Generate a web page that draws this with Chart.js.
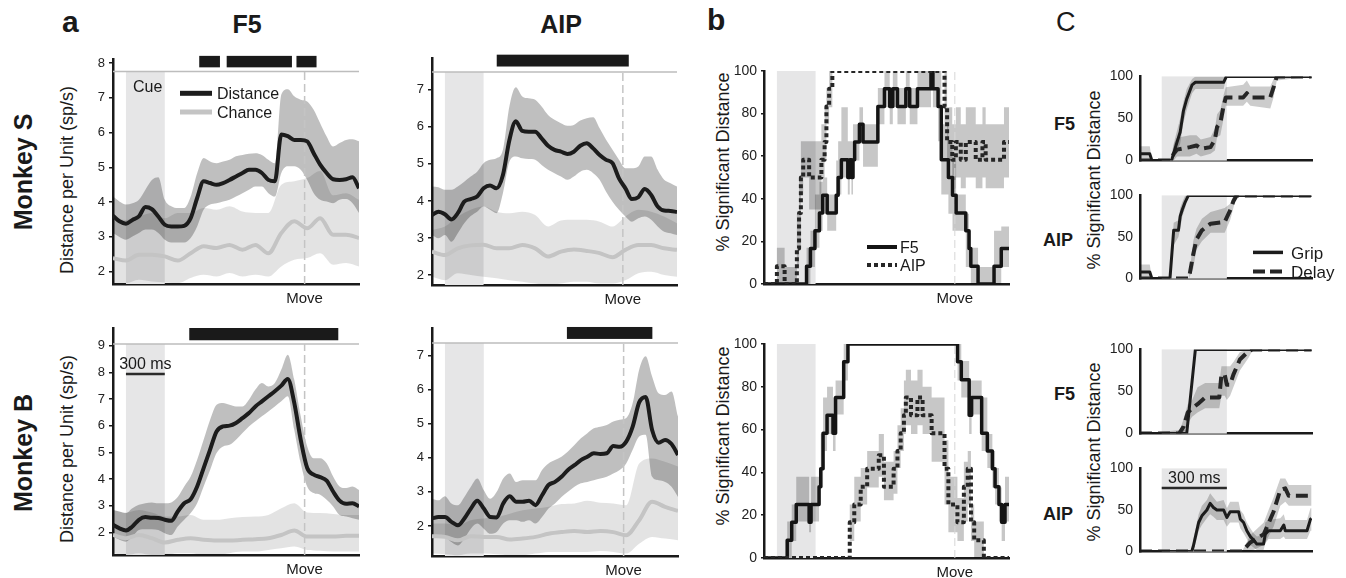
<!DOCTYPE html>
<html>
<head>
<meta charset="utf-8">
<script src="https://cdn.jsdelivr.net/npm/chart.js@4.4.1/dist/chart.umd.min.js"></script>
<style>
  body { margin: 0; background: #fff; }
  #fig { position: relative; width: 1346px; height: 578px; overflow: hidden;
         font-family: 'Liberation Sans', Arial, Helvetica, sans-serif; color: #1a1a1a; }
  #fig canvas { position: absolute; }
  .t { position: absolute; line-height: 1; white-space: nowrap; }
  .v { position: absolute; line-height: 1; white-space: nowrap;
       transform: translate(-50%, -50%) rotate(-90deg); }
</style>
</head>
<body>
<div id="fig">
  <div class="t" style="left:62px;top:7px;font-size:30px;font-weight:bold">a</div>
  <div class="t" style="left:197px;width:100px;text-align:center;top:12px;font-size:25px;font-weight:bold">F5</div>
  <div class="t" style="left:511px;width:100px;text-align:center;top:12px;font-size:25px;font-weight:bold">AIP</div>
  <div class="t" style="left:707px;top:5px;font-size:30px;font-weight:bold">b</div>
  <div class="t" style="left:1056px;top:9px;font-size:27px">C</div>

  <div class="v" style="left:23px;top:172px;font-size:25px;font-weight:bold">Monkey S</div>
  <div class="v" style="left:23px;top:453px;font-size:25px;font-weight:bold">Monkey B</div>
  <div class="v" style="left:67px;top:180px;font-size:18px">Distance per Unit (sp/s)</div>
  <div class="v" style="left:67px;top:449px;font-size:18px">Distance per Unit (sp/s)</div>
  <div class="v" style="left:723px;top:162px;font-size:18px">% Significant Distance</div>
  <div class="v" style="left:723px;top:436px;font-size:18px">% Significant Distance</div>
  <div class="v" style="left:1094px;top:180px;font-size:18px">% Significant Distance</div>
  <div class="v" style="left:1094px;top:452px;font-size:18px">% Significant Distance</div>

  <div class="t" style="right:271px;top:115px;font-size:18px;font-weight:bold">F5</div>
  <div class="t" style="right:273px;top:231px;font-size:18px;font-weight:bold">AIP</div>
  <div class="t" style="right:271px;top:385px;font-size:18px;font-weight:bold">F5</div>
  <div class="t" style="right:273px;top:505px;font-size:18px;font-weight:bold">AIP</div>
</div>

<script>
const FONT = "'Liberation Sans', Arial, Helvetica, sans-serif";
const INK = '#1a1a1a';

// time in ms from cue onset
const cueWin = [0, 300];
const moveT = 1380;

// panel a: distance per unit, 50 ms grid (distance) and 100 ms grid (chance)
const tA = [-100,-50,0,50,100,150,200,250,300,350,400,450,500,550,600,650,700,750,800,850,900,950,1000,1050,1100,1150,1200,1250,1300,1350,1400,1450,1500,1550,1600,1650,1700,1750,1800];
const tAc = [-100,0,100,200,300,400,500,600,700,800,900,1000,1100,1200,1300,1400,1500,1600,1700,1800];

// Monkey S, F5
const sF5Dist   = [3.61,3.45,3.38,3.49,3.59,3.86,3.80,3.59,3.35,3.30,3.30,3.32,3.54,4.12,4.60,4.55,4.50,4.55,4.64,4.74,4.84,4.93,4.93,4.84,4.64,4.60,5.95,5.90,5.79,5.79,5.75,5.41,5.08,4.84,4.66,4.64,4.66,4.72,4.40];
const sF5DistHi = [4.16,4.02,3.93,3.97,4.07,4.36,4.64,4.72,4.07,3.88,3.83,3.83,4.16,4.83,5.27,5.17,5.12,5.17,5.22,5.32,5.36,5.39,5.41,5.36,5.22,5.12,7.10,7.25,7.05,6.95,6.90,6.66,6.27,5.89,5.60,5.70,5.79,5.81,5.75];
const sF5DistLo = [3.11,3.00,2.92,3.01,3.11,3.21,3.21,3.11,2.92,2.84,2.84,2.84,2.97,3.30,3.78,3.93,3.97,4.02,4.07,4.16,4.26,4.36,4.45,4.45,4.26,4.16,4.84,5.03,5.03,4.93,4.64,4.26,4.07,4.02,3.97,4.07,4.09,3.97,3.69];
const sF5Chance   = [2.39,2.32,2.49,2.49,2.44,2.32,2.53,2.73,2.68,2.77,2.63,2.77,2.53,3.11,3.45,3.25,3.54,3.06,3.06,2.97];
const sF5ChanceHi = [3.54,3.49,3.59,3.69,3.54,3.69,3.69,3.83,3.78,3.88,3.73,3.69,3.69,4.50,4.60,4.70,4.90,4.20,4.26,4.07];
const sF5ChanceLo = [1.67,1.67,1.77,1.72,1.69,1.67,1.82,1.91,1.86,1.96,1.86,1.91,1.86,2.15,2.34,2.39,2.53,2.20,2.25,2.15];
const sF5Sig = [[566,726],[778,1282],[1317,1472]];

// Monkey S, AIP
const sAipDist   = [3.62,3.71,3.64,3.50,3.67,3.98,4.05,4.12,4.34,4.42,4.34,4.70,5.64,6.15,5.89,5.87,5.87,5.69,5.49,5.38,5.33,5.27,5.33,5.49,5.56,5.42,5.24,5.11,5.02,4.61,4.34,4.05,4.10,4.32,4.16,3.85,3.74,3.73,3.70];
const sAipDistHi = [4.39,4.37,4.30,4.30,4.39,4.52,4.66,4.79,5.02,5.11,5.15,5.38,6.55,7.07,6.82,6.77,6.73,6.55,6.32,6.19,6.10,6.03,6.05,6.17,6.23,6.26,5.96,5.65,5.38,5.11,4.88,4.88,4.93,5.20,5.20,4.84,4.57,4.48,4.39];
const sAipDistLo = [3.08,2.99,3.08,2.90,3.13,3.40,3.59,3.71,3.85,3.76,3.67,4.21,5.06,5.20,5.15,5.13,5.11,4.97,4.84,4.75,4.66,4.57,4.66,4.79,4.84,4.75,4.57,4.25,3.98,3.76,3.58,3.44,3.53,3.58,3.49,3.31,3.17,3.13,3.08];
const sAipChance   = [2.63,2.54,2.72,2.80,2.82,2.72,2.72,2.81,2.72,2.50,2.63,2.69,2.65,2.59,2.48,2.68,2.81,2.81,2.72,2.68];
const sAipChanceHi = [3.22,3.31,3.58,3.76,3.85,3.71,3.67,3.71,3.62,3.31,3.47,3.49,3.49,3.44,3.31,3.58,3.76,3.71,3.58,3.40];
const sAipChanceLo = [1.95,1.86,2.05,2.00,1.95,1.91,1.86,1.82,1.77,1.73,1.77,1.82,1.82,1.77,1.77,1.86,2.05,2.09,2.00,1.95];
const sAipSig = [[402,1426]];

// Monkey B, F5
const bF5Dist   = [2.28,2.15,2.07,2.22,2.47,2.57,2.55,2.54,2.47,2.43,2.78,3.09,3.24,3.72,4.41,5.10,5.78,5.97,6.00,6.10,6.28,6.47,6.72,6.91,7.10,7.29,7.50,7.75,6.85,5.47,4.41,4.16,4.07,3.94,3.53,3.19,3.07,3.09,2.97];
const bF5DistHi = [2.84,2.78,2.72,2.90,3.03,3.09,3.12,3.09,3.09,3.12,3.32,3.72,4.09,4.72,5.47,6.22,6.78,6.85,6.78,6.72,6.72,6.97,7.35,7.60,7.47,7.60,8.10,8.66,7.72,6.35,5.22,4.78,4.78,4.59,4.09,3.72,3.66,3.72,3.59];
const bF5DistLo = [1.84,1.72,1.65,1.84,2.09,2.12,2.12,2.09,1.97,1.90,2.22,2.47,2.72,3.09,3.72,4.34,4.97,5.22,5.28,5.47,5.72,5.97,6.16,6.35,6.53,6.72,6.91,7.10,5.85,4.59,3.72,3.47,3.41,3.22,2.97,2.65,2.59,2.53,2.47];
const bF5Chance   = [1.90,1.78,1.90,1.78,1.62,1.72,1.78,1.72,1.69,1.69,1.72,1.74,1.78,1.90,2.07,1.84,1.84,1.84,1.87,1.87];
const bF5ChanceHi = [2.84,2.74,2.84,2.74,2.59,2.59,2.65,2.47,2.47,2.53,2.57,2.59,2.65,2.90,3.09,2.74,2.72,2.69,2.65,2.65];
const bF5ChanceLo = [1.22,1.15,1.22,1.15,1.15,1.22,1.22,1.15,1.15,1.22,1.28,1.28,1.34,1.40,1.47,1.34,1.31,1.28,1.28,1.28];
const bF5Sig = [[489,1640]];

// Monkey B, AIP
const bAipDist   = [2.22,2.26,2.26,2.12,2.02,2.22,2.51,2.74,2.51,2.26,2.25,2.66,2.87,2.71,2.71,2.74,2.61,2.90,3.20,3.29,3.44,3.64,3.78,3.93,4.03,4.13,4.11,4.13,4.34,4.32,4.47,4.91,5.62,5.78,4.81,4.44,4.52,4.40,4.08];
const bAipDistHi = [2.80,2.75,2.87,2.66,2.61,2.85,3.15,3.39,3.05,2.80,3.00,3.39,3.54,3.29,3.34,3.34,3.34,3.64,3.83,3.93,4.03,4.18,4.37,4.57,4.72,4.86,4.91,4.96,5.06,5.11,5.16,5.60,6.58,6.97,6.38,5.89,5.84,5.94,5.21];
const bAipDistLo = [1.63,1.68,1.68,1.53,1.43,1.63,1.92,2.07,1.92,1.77,1.82,2.07,2.17,2.17,2.12,2.17,2.07,2.26,2.51,2.66,2.85,3.00,3.15,3.25,3.29,3.34,3.39,3.44,3.54,3.64,3.83,4.23,4.62,4.67,3.44,3.34,3.29,3.15,2.85];
const bAipChance   = [1.70,1.68,1.58,1.70,1.68,1.68,1.60,1.63,1.68,1.77,1.82,1.85,1.82,1.85,1.82,1.73,2.17,2.71,2.56,2.44];
const bAipChanceHi = [2.07,2.07,2.02,2.17,2.22,2.26,2.36,2.46,2.51,2.56,2.64,2.66,2.74,2.68,2.66,2.61,3.83,3.98,3.88,3.74];
const bAipChanceLo = [1.19,1.17,1.14,1.19,1.19,1.17,1.14,1.14,1.19,1.24,1.24,1.24,1.24,1.27,1.24,1.19,1.48,1.68,1.63,1.58];
const bAipSig = [[942,1602]];

// panel b: % significant distance (step points)
const sF5PctT  = [-100,230,260,295,330,355,390,460,475,500,550,565,578,590,603,640,668,783,834,875,899,935,1000,1030,1090,1195,1210,1250,1275,1330,1362,1390,1465,1490,1504,1560,1684,1740,1800];
const sF5Pct   = [0,8.3,16.7,25,33.3,41.7,33.3,41.7,50,58.3,50,58.3,50,58.3,66.7,75,66.7,83.3,91.7,83.3,91.7,83.3,91.7,83.3,91.7,100,91.7,83.3,58.3,50,41.7,33.3,25,16.7,8.3,0,8.3,16.7,16.7];
const sF5PctHi = [0,17,25,42,48,50,42,58,67,83,67,67,67,75,75,83,75,92,100,92,100,92,100,92,100,100,100,100,75,67,58,42,33,25,17,8,25,27,27];
const sF5PctLo = [0,0,8,17,25,33,25,33,42,50,42,50,42,50,58,67,55,75,83,75,83,75,83,75,83,92,83,67,42,33,25,25,8,8,0,0,0,8,8];

const sAipPctT  = [-100,0,60,155,172,186,204,250,345,370,384,405,430,1300,1320,1360,1388,1426,1465,1542,1594,1619,1761,1800];
const sAipPct   = [0,8.3,0,16.7,33.3,50,58.3,50,58.3,66.7,83.3,91.7,100,83.3,66.7,58.3,66.7,58.3,66.7,58.3,66.7,58.3,66.7,66.7];
const sAipPctHi = [0,17,8,33,50,67,67,67,75,83,92,100,100,100,83,75,83,75,83,75,83,75,83,83];
const sAipPctLo = [0,0,0,8,17,42,50,35,50,58,75,83,100,75,58,45,50,45,50,45,50,45,50,50];

const bF5PctT  = [-100,80,115,150,250,265,327,340,358,389,435,455,518,551,1401,1430,1491,1510,1588,1632,1671,1692,1722,1743,1769,1800];
const bF5Pct   = [0,8.3,16.7,25,16.7,25,33.3,41.7,58.3,66.7,58.3,75,91.7,100,91.7,83.3,66.7,75,58.3,50,41.7,33.3,25,16.7,25,25];
const bF5PctHi = [0,17,25,38,25,38,42,58,75,80,75,83,100,100,100,92,83,83,75,58,50,42,33,25,38,38];
const bF5PctLo = [0,0,8,17,12,17,25,33,50,58,50,67,83,100,83,75,58,67,50,42,33,25,17,8,17,17];

const bAipPctT  = [-100,565,600,650,700,790,830,905,935,960,985,1000,1040,1090,1130,1200,1300,1330,1400,1450,1480,1505,1530,1605,1800];
const bAipPct   = [0,16.7,25,33.3,41.7,48,33.3,41.7,50,58.3,66.7,75,66.7,75,66.7,58.3,41.7,25,16.7,33.3,41.7,16.7,8.3,0,0];
const bAipPctHi = [0,25,38,42,50,58,45,50,62,70,83,88,83,88,80,75,55,38,28,45,50,25,17,0,0];
const bAipPctLo = [0,8,17,25,33,38,27,30,42,50,58,62,58,62,58,45,25,12,8,17,25,8,0,0,0];

// panel C: grip vs delay, % significant distance
const sF5GripT  = [-100,-55,-45,45,60,85,100,115,140,155,285,298,690];
const sF5Grip   = [8,8,0,0,13,34,59,73,90,93,93,100,100];
const sF5GripHi = [17,17,0,0,25,50,70,85,97,100,100,100,100];
const sF5GripLo = [0,0,0,0,5,20,45,60,80,85,85,100,100];
const sF5DelayT  = [-100,40,55,70,130,160,180,225,245,255,270,285,295,375,392,408,500,515,530,690];
const sF5Delay   = [0,0,8,13,16,18,14,16,25,40,45,65,75,75,80,75,75,87,100,100];
const sF5DelayHi = [0,0,20,27,30,30,25,28,38,55,60,78,87,90,95,88,88,97,100,100];
const sF5DelayLo = [0,0,0,5,5,8,5,8,12,28,30,50,65,65,70,65,62,75,95,100];

const sAipGripT  = [-100,-55,-45,38,55,77,85,95,108,123,690];
const sAipGrip   = [8,8,0,0,58,58,75,83,92,100,100];
const sAipGripHi = [17,17,0,0,67,70,85,92,100,100,100];
const sAipGripLo = [0,0,0,0,40,50,60,75,85,100,100];
const sAipDelayT  = [-100,125,145,160,185,225,290,315,330,345,690];
const sAipDelay   = [0,0,29,47,58,66,68,82,93,100,100];
const sAipDelayHi = [0,0,45,60,72,80,85,90,100,100,100];
const sAipDelayLo = [0,0,12,35,45,55,55,70,85,100,100];

const bF5GripT  = [-100,115,155,690];
const bF5Grip   = [0,0,100,100];
const bF5GripHi = [0,5,100,100];
const bF5GripLo = [0,0,100,100];
const bF5DelayT  = [-100,80,100,120,140,165,200,265,275,290,300,315,330,360,400,420,690];
const bF5Delay   = [0,0,8,25,30,35,43,43,70,70,58,58,70,88,98,100,100];
const bF5DelayHi = [0,0,17,35,40,55,60,60,80,80,80,80,85,97,100,100,100];
const bF5DelayLo = [0,0,0,12,20,25,30,30,45,45,40,45,55,75,90,100,100];

const bAipGripT  = [-100,138,146,170,185,208,223,238,254,285,300,315,354,362,377,392,408,423,438,469,477,492,546,562,569,669,685,690];
const bAipGrip   = [0,0,7,35,43,50,58,53,50,50,41,48,48,39,35,25,18,14,9,9,21,25,25,32,25,25,39,40];
const bAipGripHi = [0,0,15,45,55,62,70,65,60,62,52,60,60,50,45,35,28,22,18,20,35,38,40,45,38,38,52,52];
const bAipGripLo = [0,0,0,25,32,40,45,42,38,38,30,35,35,28,22,15,8,5,2,2,10,15,15,18,15,15,25,25];
const bAipDelayT  = [-100,370,408,470,492,515,546,569,585,690];
const bAipDelay   = [0,0,11,21,34,48,74,76,67,67];
const bAipDelayHi = [0,0,20,35,50,65,88,88,80,80];
const bAipDelayLo = [0,0,0,8,18,30,55,60,55,55];

const ticksA = { s5: [2,3,4,5,6,7,8], s7: [2,3,4,5,6,7], b9: [2,3,4,5,6,7,8,9] };
const ticksPct = [0,20,40,60,80,100];
const ticksC = [0,50,100];

const xy = (xs, ys) => xs.map((x, i) => ({ x, y: ys[i] }));

// cue shading, reference line, significance bars, labels and keys
const decor = {
  id: 'decor',
  beforeDatasetsDraw(chart, args, o) {
    const { ctx, chartArea: a, scales: { x, y } } = chart;
    ctx.save();
    if (o.cue) {
      const x0 = x.getPixelForValue(o.cue[0]), x1 = x.getPixelForValue(o.cue[1]);
      const top = o.refLine != null ? y.getPixelForValue(o.refLine) : a.top;
      ctx.fillStyle = '#e6e6e7';
      ctx.fillRect(x0, top, x1 - x0, a.bottom - top);
    }
    if (o.refLine != null) {
      const yy = y.getPixelForValue(o.refLine);
      ctx.strokeStyle = '#bdbdbd';
      ctx.lineWidth = 1.5;
      ctx.beginPath(); ctx.moveTo(a.left, yy); ctx.lineTo(a.right, yy); ctx.stroke();
    }
    ctx.restore();
  },
  afterDraw(chart, args, o) {
    const { ctx, chartArea: a, scales: { x, y } } = chart;
    ctx.save();
    ctx.fillStyle = INK;
    (o.bars || []).forEach(([t0, t1]) => {
      const x0 = x.getPixelForValue(t0), x1 = x.getPixelForValue(t1);
      const y0 = y.getPixelForValue(o.barSpan[1]), y1 = y.getPixelForValue(o.barSpan[0]);
      ctx.fillRect(x0, y0, x1 - x0, y1 - y0);
    });
    if (o.move != null) {
      ctx.font = `15px ${FONT}`;
      ctx.textAlign = 'center';
      ctx.fillText('Move', x.getPixelForValue(o.move), a.bottom + 18.5);
    }
    if (o.scaleBar) {
      const s = o.scaleBar;
      const x0 = x.getPixelForValue(s.t0), x1 = x.getPixelForValue(s.t1);
      ctx.strokeStyle = '#2a2a2a';
      ctx.lineWidth = 2.5;
      ctx.beginPath(); ctx.moveTo(x0, a.top + s.dy); ctx.lineTo(x1, a.top + s.dy); ctx.stroke();
      ctx.font = `${s.size}px ${FONT}`;
      ctx.textAlign = 'center';
      ctx.fillText(s.text, (x0 + x1) / 2, a.top + s.ty);
    }
    (o.notes || []).forEach(n => {
      ctx.font = `${n.size}px ${FONT}`;
      ctx.textAlign = 'left';
      ctx.fillText(n.text, a.left + n.dx, a.top + n.dy);
    });
    (o.keys || []).forEach(k => {
      const yy = a.top + k.dy;
      ctx.strokeStyle = k.color;
      ctx.lineWidth = k.width;
      ctx.setLineDash(k.dash || []);
      ctx.beginPath(); ctx.moveTo(a.left + k.dx0, yy); ctx.lineTo(a.left + k.dx1, yy); ctx.stroke();
      ctx.setLineDash([]);
      ctx.font = `${k.size}px ${FONT}`;
      ctx.textAlign = 'left';
      ctx.fillText(k.label, a.left + k.tx, yy + k.size * 0.36);
    });
    ctx.restore();
  }
};
Chart.register(decor);

function mount(box, pad) {
  const c = document.createElement('canvas');
  const w = box.r - box.l + pad.l + pad.r;
  const h = box.b - box.t + pad.t + pad.b;
  c.width = w;
  c.height = h;
  Object.assign(c.style, { left: (box.l - pad.l) + 'px', top: (box.t - pad.t) + 'px', width: w + 'px', height: h + 'px' });
  document.getElementById('fig').appendChild(c);
  return c;
}

function options(pad, xr, yr, deco) {
  return {
    responsive: false,
    animation: false,
    devicePixelRatio: 1,
    layout: { padding: { top: pad.t, right: pad.r, left: 0, bottom: 0 } },
    elements: { point: { radius: 0 }, line: { borderJoinStyle: 'round' } },
    plugins: { legend: { display: false }, tooltip: { enabled: false }, decor: deco },
    scales: {
      x: {
        type: 'linear', min: xr[0], max: xr[1],
        ticks: { display: false }, grid: { display: false },
        border: { color: INK, width: 2.5 },
        afterFit: s => { s.height = pad.b; }
      },
      y: {
        type: 'linear', min: yr.min, max: yr.max,
        afterBuildTicks: s => { s.ticks = yr.ticks.map(v => ({ value: v })); },
        afterFit: s => { s.width = pad.l; },
        ticks: { font: { family: FONT, size: yr.size }, color: '#222', padding: yr.tick ? 4 : 7 },
        grid: { display: !!yr.tick, drawOnChartArea: false, drawTicks: !!yr.tick, tickLength: yr.tick || 0, color: INK, lineWidth: 1.5 },
        border: { color: INK, width: 2.5 }
      }
    }
  };
}

function bandPair(xs, hi, lo, color, order, first, extra) {
  return [
    { data: xy(xs, hi), borderWidth: 0, borderColor: 'transparent', backgroundColor: color, fill: first + 1, order, ...extra },
    { data: xy(xs, lo), borderWidth: 0, borderColor: 'transparent', fill: false, order, ...extra }
  ];
}

function trace(xs, ys, color, width, order, extra) {
  return { data: xy(xs, ys), borderColor: color, borderWidth: width, fill: false, order, ...extra };
}

function moveMark(lo, hi, color, width) {
  return { data: [{ x: moveT, y: lo }, { x: moveT, y: hi }], borderColor: color, borderWidth: width,
           borderDash: [8, 4], fill: false, order: 1 };
}

const smooth = { cubicInterpolationMode: 'monotone' };
const step = { stepped: true };

function panelA(box, yr, s, deco) {
  const pad = { l: 36, r: 8, t: 30, b: 26 };
  const datasets = [
    ...bandPair(tA, s.hi, s.lo, 'rgba(0,0,0,0.25)', 3, 0, smooth),
    ...bandPair(tAc, s.cHi, s.cLo, 'rgba(0,0,0,0.11)', 4, 2, smooth),
    moveMark(yr.min, deco.refLine, '#c4c4c4', 1.5),
    trace(tAc, s.c, '#c4c4c4', 4, 0.5, smooth),
    trace(tA, s.d, '#1c1c1c', 4, 0, smooth)
  ];
  new Chart(mount(box, pad), {
    type: 'line', data: { datasets },
    options: options(pad, [-100, 1800], { ...yr, size: 13, tick: 4 }, { ...deco, cue: cueWin, move: moveT })
  });
}

function panelB(box, f5, aip, deco) {
  const pad = { l: 40, r: 8, t: 14, b: 26 };
  const datasets = [
    ...bandPair(f5.t, f5.hi, f5.lo, 'rgba(0,0,0,0.22)', 3, 0, step),
    ...bandPair(aip.t, aip.hi, aip.lo, 'rgba(0,0,0,0.22)', 3, 2, step),
    moveMark(0, 100, '#d6d6d6', 1),
    trace(f5.t, f5.v, '#141414', 3.5, 0.5, step),
    trace(aip.t, aip.v, '#262626', 4, 0, { ...step, borderDash: [4, 3] })
  ];
  new Chart(mount(box, pad), {
    type: 'line', data: { datasets },
    options: options(pad, [-100, 1800], { min: 0, max: 100, ticks: ticksPct, size: 14, tick: 3 }, { ...deco, cue: cueWin, move: moveT })
  });
}

function panelC(box, grip, delay, deco) {
  const pad = { l: 40, r: 34, t: 10, b: 10 };
  const datasets = [
    ...bandPair(grip.t, grip.hi, grip.lo, 'rgba(0,0,0,0.2)', 3, 0, {}),
    ...bandPair(delay.t, delay.hi, delay.lo, 'rgba(0,0,0,0.2)', 3, 2, {}),
    trace(delay.t, delay.v, '#262626', 4, 0.5, { borderDash: [12, 6] }),
    trace(grip.t, grip.v, '#1c1c1c', 3, 0, {})
  ];
  new Chart(mount(box, pad), {
    type: 'line', data: { datasets },
    options: options(pad, [-100, 692], { min: 0, max: 100, ticks: ticksC, size: 14, tick: 0 }, { ...deco, cue: cueWin })
  });
}

// panel a
panelA({ l: 113, t: 59, r: 359, b: 284 }, { min: 1.645, max: 8.12, ticks: ticksA.s5 },
  { d: sF5Dist, hi: sF5DistHi, lo: sF5DistLo, c: sF5Chance, cHi: sF5ChanceHi, cLo: sF5ChanceLo },
  { refLine: 7.76, bars: sF5Sig, barSpan: [7.88, 8.21],
    notes: [{ text: 'Cue', dx: 20, dy: 33, size: 16 }],
    keys: [
      { label: 'Distance', dx0: 67, dx1: 99, dy: 34.3, tx: 104, color: '#1c1c1c', width: 5, size: 16 },
      { label: 'Chance', dx0: 67, dx1: 99, dy: 53, tx: 104, color: '#c4c4c4', width: 5, size: 16 }
    ] });

panelA({ l: 432, t: 58, r: 677, b: 285 }, { min: 1.73, max: 7.86, ticks: ticksA.s7 },
  { d: sAipDist, hi: sAipDistHi, lo: sAipDistLo, c: sAipChance, cHi: sAipChanceHi, cLo: sAipChanceLo },
  { refLine: 7.48, bars: sAipSig, barSpan: [7.63, 7.95] });

panelA({ l: 113, t: 328, r: 359, b: 555 }, { min: 1.15, max: 9.66, ticks: ticksA.b9 },
  { d: bF5Dist, hi: bF5DistHi, lo: bF5DistLo, c: bF5Chance, cHi: bF5ChanceHi, cLo: bF5ChanceLo },
  { refLine: 9.06, bars: bF5Sig, barSpan: [9.2, 9.66],
    scaleBar: { t0: 0, t1: 300, dy: 46, ty: 41, text: '300 ms', size: 16 } });

panelA({ l: 432, t: 328, r: 678, b: 556 }, { min: 1.12, max: 7.8, ticks: ticksA.s7 },
  { d: bAipDist, hi: bAipDistHi, lo: bAipDistLo, c: bAipChance, cHi: bAipChanceHi, cLo: bAipChanceLo },
  { refLine: 7.36, bars: bAipSig, barSpan: [7.48, 7.83] });

// panel b
panelB({ l: 764, t: 71, r: 1009, b: 284 },
  { t: sF5PctT, v: sF5Pct, hi: sF5PctHi, lo: sF5PctLo },
  { t: sAipPctT, v: sAipPct, hi: sAipPctHi, lo: sAipPctLo },
  { keys: [
      { label: 'F5', dx0: 103, dx1: 133, dy: 176, tx: 136, color: '#141414', width: 4, size: 16 },
      { label: 'AIP', dx0: 103, dx1: 133, dy: 194, tx: 136, color: '#262626', width: 4, dash: [4, 3], size: 16 }
    ] });

panelB({ l: 764, t: 344, r: 1009, b: 558 },
  { t: bF5PctT, v: bF5Pct, hi: bF5PctHi, lo: bF5PctLo },
  { t: bAipPctT, v: bAipPct, hi: bAipPctHi, lo: bAipPctLo }, {});

// panel C
panelC({ l: 1140, t: 71, r: 1312, b: 166 },
  { t: sF5GripT, v: sF5Grip, hi: sF5GripHi, lo: sF5GripLo },
  { t: sF5DelayT, v: sF5Delay, hi: sF5DelayHi, lo: sF5DelayLo }, {});

panelC({ l: 1140, t: 190, r: 1312, b: 284 },
  { t: sAipGripT, v: sAipGrip, hi: sAipGripHi, lo: sAipGripLo },
  { t: sAipDelayT, v: sAipDelay, hi: sAipDelayHi, lo: sAipDelayLo },
  { keys: [
      { label: 'Grip', dx0: 113, dx1: 143, dy: 57, tx: 151, color: '#1c1c1c', width: 3.5, size: 17 },
      { label: 'Delay', dx0: 113, dx1: 143, dy: 76, tx: 151, color: '#262626', width: 4, dash: [12, 5], size: 17 }
    ] });

panelC({ l: 1140, t: 344, r: 1312, b: 439 },
  { t: bF5GripT, v: bF5Grip, hi: bF5GripHi, lo: bF5GripLo },
  { t: bF5DelayT, v: bF5Delay, hi: bF5DelayHi, lo: bF5DelayLo }, {});

panelC({ l: 1140, t: 463, r: 1312, b: 557 },
  { t: bAipGripT, v: bAipGrip, hi: bAipGripHi, lo: bAipGripLo },
  { t: bAipDelayT, v: bAipDelay, hi: bAipDelayHi, lo: bAipDelayLo },
  { scaleBar: { t0: 0, t1: 300, dy: 19.6, ty: 15, text: '300 ms', size: 16 } });
</script>
</body>
</html>
